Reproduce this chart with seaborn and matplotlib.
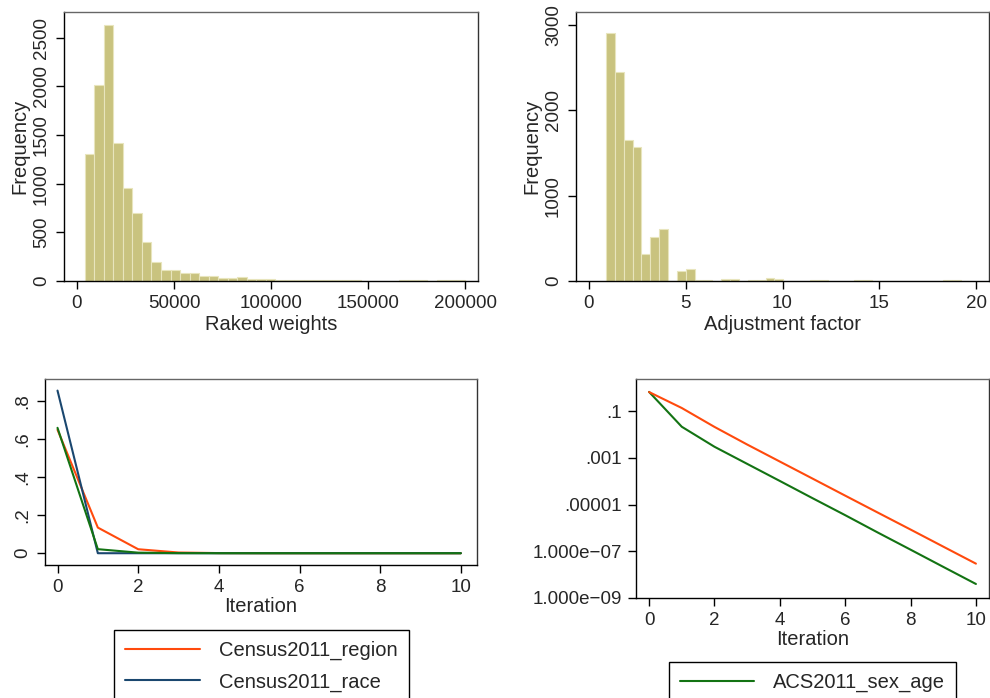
import numpy as np
import pandas as pd
import seaborn as sns
import matplotlib
matplotlib.use('Agg')
import matplotlib.pyplot as plt
from matplotlib.ticker import FixedLocator, NullLocator

# histogram bin counts
raked_start, raked_width = 4100, 4900
raked_counts = [1310, 2010, 2630, 1420, 960, 695, 400, 195, 115, 110,
                80, 78, 55, 48, 32, 28, 40, 22, 20, 16,
                14, 12, 14, 10, 9, 8, 8, 8, 6, 5,
                4, 4, 4, 10, 9, 6, 4, 10, 9, 8]

adj_start, adj_width = 0.88, 0.458
adj_counts = [2900, 2445, 1655, 1570, 316, 520, 609, 0, 117, 137,
              6, 6, 0, 18, 20, 0, 8, 8, 35, 28,
              0, 0, 5, 7, 7, 0, 0, 5, 7, 6,
              0, 3, 5, 0, 0, 0, 4, 5, 6, 8, 0]

# convergence by iteration
iteration = list(range(11))
census_region = [0.65, 0.135, 0.021, 3.7e-3, 6.9e-4, 1.29e-4, 2.4e-5,
                 4.5e-6, 8.5e-7, 1.58e-7, 2.95e-8]
census_race = [0.856, 0.0, 0.0, 0.0, 0.0, 0.0, 0.0, 0.0, 0.0, 0.0, 0.0]
acs_sex_age = [0.66, 0.0213, 0.00297, 5.5e-4, 1.02e-4, 1.87e-5, 3.5e-6,
               6.3e-7, 1.17e-7, 2.15e-8, 3.98e-9]

sns.set_style('ticks')
plt.rcParams['font.family'] = ['Liberation Sans', 'DejaVu Sans']
plt.rcParams['font.size'] = 13.5

W, H = 990, 698
fig = plt.figure(figsize=(W / 100, H / 100), dpi=100)


def axes_px(left, top, right, bottom):
    return fig.add_axes([left / W, 1 - bottom / H, (right - left) / W, (bottom - top) / H])


bar_face = '#c9c37f'
bar_edge = '#e8e5bd'
c_region = '#ff4a0d'
c_race = '#1a476f'
c_sexage = '#137313'
title_fs = 14.5


def style(ax):
    for s in ax.spines.values():
        s.set_visible(True)
        s.set_color('black')
        s.set_linewidth(1.0)
    ax.spines['top'].set_color('#666666')
    ax.spines['right'].set_color('#333333')
    ax.tick_params(direction='out', length=6, width=1, color='black', labelsize=13.5, pad=4)


def legend(ax, cx, top):
    lg = ax.legend(loc='upper center', bbox_to_anchor=(cx / W, 1 - top / H),
                   bbox_transform=fig.transFigure, frameon=True, fancybox=False,
                   edgecolor='black', framealpha=1, handlelength=3.7, handletextpad=0.95,
                   borderpad=0.55, labelspacing=0.6, fontsize=title_fs, borderaxespad=0)
    lg.get_frame().set_linewidth(1.0)
    lg.get_frame().set_boxstyle('square', pad=0.0)


# top left: raked weights
ax1 = axes_px(64, 12, 478, 281)
edges1 = list(raked_start + raked_width * np.arange(len(raked_counts) + 1))
hist1 = pd.DataFrame({'mid': np.add(edges1[:-1], raked_width / 2), 'n': raked_counts})
sns.histplot(data=hist1, x='mid', weights='n', bins=edges1, ax=ax1,
             color=bar_face, edgecolor=bar_edge, linewidth=0.8, alpha=1)
ax1.set_xlim(-6700, 206700)
ax1.set_ylim(0, 2765)
ax1.set_xticks([0, 50000, 100000, 150000, 200000])
ax1.set_yticks([0, 500, 1000, 1500, 2000, 2500])
ax1.set_yticklabels(['0', '500', '1000', '1500', '2000', '2500'], rotation=90, va='center')
ax1.set_xlabel('Raked weights', labelpad=2, fontsize=title_fs)
ax1.set_ylabel('Frequency', labelpad=3, fontsize=title_fs)
style(ax1)

# top right: adjustment factor
ax2 = axes_px(576, 12, 989, 281)
edges2 = list(adj_start + adj_width * np.arange(len(adj_counts) + 1))
hist2 = pd.DataFrame({'mid': np.add(edges2[:-1], adj_width / 2), 'n': adj_counts})
sns.histplot(data=hist2, x='mid', weights='n', bins=edges2, ax=ax2,
             color=bar_face, edgecolor=bar_edge, linewidth=0.8, alpha=1)
ax2.set_xlim(-0.67, 20.67)
ax2.set_ylim(0, 3150)
ax2.set_xticks([0, 5, 10, 15, 20])
ax2.set_yticks([0, 1000, 2000, 3000])
ax2.set_yticklabels(['0', '1000', '2000', '3000'], rotation=90, va='center')
ax2.set_xlabel('Adjustment factor', labelpad=2, fontsize=title_fs)
ax2.set_ylabel('Frequency', labelpad=3, fontsize=title_fs)
style(ax2)

# bottom left: linear
ax3 = axes_px(45, 379, 477, 565)
df = pd.DataFrame({'iteration': iteration, 'region': census_region,
                   'race': census_race, 'sexage': acs_sex_age})
sns.lineplot(data=df, x='iteration', y='region', ax=ax3, color=c_region, lw=1.5, label='Census2011_region')
sns.lineplot(data=df, x='iteration', y='race', ax=ax3, color=c_race, lw=1.5, label='Census2011_race')
sns.lineplot(data=df, x='iteration', y='sexage', ax=ax3, color=c_sexage, lw=1.5, legend=False)
ax3.set_xlim(-0.31, 10.4)
ax3.set_ylim(-0.062, 0.917)
ax3.set_xticks([0, 2, 4, 6, 8, 10])
ax3.set_yticks([0, 0.2, 0.4, 0.6, 0.8])
ax3.set_yticklabels(['0', '.2', '.4', '.6', '.8'], rotation=90, va='center')
ax3.set_xlabel('Iteration', labelpad=1, fontsize=title_fs)
ax3.set_ylabel('')
style(ax3)
legend(ax3, 261.5, 630)

# bottom right: log scale
ax4 = axes_px(636, 379, 989, 598)
sns.lineplot(data=df, x='iteration', y='sexage', ax=ax4, color=c_sexage, lw=1.5, label='ACS2011_sex_age')
sns.lineplot(data=df, x='iteration', y='region', ax=ax4, color=c_region, lw=1.5, legend=False)
ax4.set_yscale('log')
ax4.set_xlim(-0.4, 10.4)
ax4.set_ylim(1e-9, 2.35)
ax4.set_xticks([0, 2, 4, 6, 8, 10])
ax4.yaxis.set_major_locator(FixedLocator([1e-9, 1e-7, 1e-5, 1e-3, 1e-1]))
ax4.yaxis.set_minor_locator(NullLocator())
ax4.set_yticklabels(['1.000e\u221209', '1.000e\u221207', '.00001', '.001', '.1'])
ax4.set_xlabel('Iteration', labelpad=1, fontsize=title_fs)
ax4.set_ylabel('')
style(ax4)
legend(ax4, 812.5, 662)

fig.savefig('out.png', dpi=100)
